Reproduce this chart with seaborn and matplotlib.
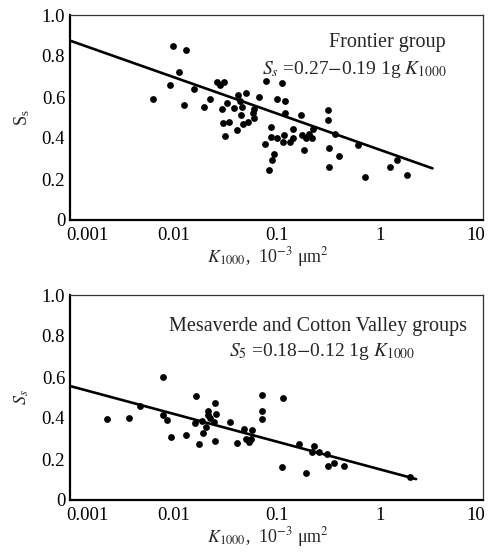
import numpy as np
import pandas as pd
import matplotlib
matplotlib.use("Agg")
import matplotlib.pyplot as plt
from matplotlib.ticker import LogLocator, NullFormatter, FixedLocator
from matplotlib.transforms import ScaledTranslation
import seaborn as sns

sns.set_style("white")
plt.rcParams['font.family'] = ['Liberation Serif', 'DejaVu Serif']
plt.rcParams['mathtext.fontset'] = 'stix'

# Frontier group, K1000 (10^-3 um^2) vs Ss
frontier_k = [0.0063, 0.0092, 0.0099, 0.0113, 0.0127, 0.0133, 0.0159, 0.0198, 0.0225, 0.0265,
              0.0285, 0.031, 0.0295, 0.0306, 0.0318, 0.0329, 0.0349, 0.0389, 0.0418, 0.0425,
              0.0441, 0.0467, 0.0456, 0.0473, 0.0509, 0.0527, 0.0589, 0.061, 0.061, 0.068,
              0.0769, 0.0787, 0.0845, 0.0877, 0.0877, 0.091, 0.0944, 0.101, 0.101, 0.113,
              0.116, 0.117, 0.12, 0.122, 0.136, 0.146, 0.146, 0.171, 0.177, 0.183,
              0.191, 0.205, 0.221, 0.225, 0.313, 0.313, 0.324, 0.324, 0.367, 0.404,
              0.61, 0.72, 1.245, 1.47, 1.82]
frontier_s = [0.59, 0.66, 0.85, 0.72, 0.56, 0.83, 0.64, 0.55, 0.59, 0.675,
              0.66, 0.675, 0.54, 0.475, 0.41, 0.57, 0.48, 0.545, 0.44, 0.61,
              0.58, 0.55, 0.51, 0.47, 0.62, 0.48, 0.52, 0.54, 0.50, 0.60,
              0.37, 0.68, 0.245, 0.405, 0.455, 0.295, 0.32, 0.59, 0.40, 0.67,
              0.38, 0.415, 0.58, 0.52, 0.38, 0.445, 0.40, 0.51, 0.415, 0.34,
              0.40, 0.42, 0.40, 0.445, 0.535, 0.49, 0.35, 0.26, 0.42, 0.31,
              0.365, 0.21, 0.26, 0.295, 0.22]
frontier_fit_k = [0.001, 3.24]
frontier_fit_s = [0.875, 0.252]

# Mesaverde and Cotton Valley groups
mesa_k = [0.00229, 0.00373, 0.0048, 0.00787, 0.0080, 0.00877, 0.00957, 0.0133, 0.0165, 0.0161,
          0.0179, 0.0188, 0.0194, 0.0208, 0.0219, 0.0216, 0.0229, 0.0246, 0.0255, 0.0261,
          0.0255, 0.0354, 0.0415, 0.048, 0.0501, 0.0539, 0.056, 0.058, 0.0721, 0.0721,
          0.0716, 0.116, 0.113, 0.166, 0.195, 0.221, 0.231, 0.257, 0.308, 0.313,
          0.361, 0.45, 1.95]
mesa_s = [0.393, 0.402, 0.459, 0.598, 0.415, 0.39, 0.306, 0.317, 0.507, 0.374,
          0.272, 0.387, 0.328, 0.358, 0.415, 0.436, 0.40, 0.382, 0.475, 0.42,
          0.288, 0.382, 0.28, 0.345, 0.30, 0.285, 0.30, 0.341, 0.512, 0.434,
          0.395, 0.50, 0.163, 0.273, 0.133, 0.236, 0.265, 0.233, 0.224, 0.167,
          0.179, 0.167, 0.114]
mesa_fit_k = [0.001, 2.25]
mesa_fit_s = [0.556, 0.102]

x_ticks = [0.001, 0.01, 0.1, 1, 10]
x_tick_labels = ["0.001", "0.01", "0.1", "1", "10"]
y_ticks = [0, 0.2, 0.4, 0.6, 0.8, 1.0]
y_tick_labels = ["0", "0.2", "0.4", "0.6", "0.8", "1.0"]

W, H = 488, 553
fig = plt.figure(figsize=(W / 100, H / 100), dpi=100)
ax1 = fig.add_axes([70 / W, 1 - 220 / H, 413 / W, 205 / H])
ax2 = fig.add_axes([70 / W, 1 - 500 / H, 413 / W, 205 / H])

# (axes, k, s, fit k, fit s, title, equation, title x/y px, equation x/y px, y label)
panels = [
    (ax1, frontier_k, frontier_s, frontier_fit_k, frontier_fit_s,
     "Frontier group", r"$S_s$ =0.27$-$0.19 1g $K_{1000}$", 446, 43, 447, 70,
     r"S$_\mathregular{s}$"),
    (ax2, mesa_k, mesa_s, mesa_fit_k, mesa_fit_s,
     "Mesaverde and Cotton Valley groups", r"$S_5$ =0.18$-$0.12 1g $K_{1000}$", 467, 327, 415, 352,
     r"$S_s$"),
]

for ax, k, s, fk, fs, title, eq, tx, ty, ex, ey, ylab in panels:
    df = pd.DataFrame({"K": k, "S": s})
    sns.scatterplot(data=df, x="K", y="S", ax=ax, color="black", s=24,
                    edgecolor="black", linewidth=0, zorder=3)
    fit = pd.DataFrame({"K": fk, "S": fs})
    sns.lineplot(data=fit, x="K", y="S", ax=ax, color="black", linewidth=1.9, zorder=2)
    ax.set_xscale("log")
    ax.set_xlim(0.001, 10)
    ax.set_ylim(0, 1.0)
    ax.xaxis.set_major_locator(FixedLocator(x_ticks))
    ax.set_xticklabels(x_tick_labels)
    ax.xaxis.set_minor_locator(LogLocator(base=10, subs=np.arange(2, 10)))
    ax.xaxis.set_minor_formatter(NullFormatter())
    ax.set_yticks(y_ticks)
    ax.set_yticklabels(y_tick_labels)
    ax.tick_params(axis="both", which="major", direction="in", labelsize=13.5,
                   length=5, width=1.2, colors="black")
    ax.tick_params(axis="x", pad=5)
    ax.tick_params(axis="y", length=3.5, pad=3.5)
    ax.tick_params(axis="x", which="minor", direction="in", length=3, width=1.0)
    # end labels sit inside the frame, as in the original
    xl = ax.get_xticklabels()
    xl[0].set_transform(xl[0].get_transform() + ScaledTranslation(0.17, 0, fig.dpi_scale_trans))
    xl[-1].set_transform(xl[-1].get_transform() + ScaledTranslation(-0.07, 0, fig.dpi_scale_trans))
    for side in ["left", "bottom"]:
        ax.spines[side].set_linewidth(1.6)
        ax.spines[side].set_color("black")
    for side in ["top", "right"]:
        ax.spines[side].set_linewidth(0.9)
        ax.spines[side].set_color("#333333")
    ax.set_xlabel(r"$K_{1000}$,  10$^{-3}$ μm$^2$", fontsize=13)
    ax.xaxis.set_label_coords(0.48, -0.18)
    ax.xaxis.label.set_verticalalignment("center")
    ax.set_ylabel(ylab, fontsize=13)
    ax.yaxis.set_label_coords(-0.116, 0.5)
    ax.yaxis.label.set_verticalalignment("center")
    fig.text(tx / W, 1 - ty / H, title, ha="right", va="center", fontsize=14.5)
    fig.text(ex / W, 1 - ey / H, eq, ha="right", va="center", fontsize=14)

fig.savefig("out.png", dpi=100)
